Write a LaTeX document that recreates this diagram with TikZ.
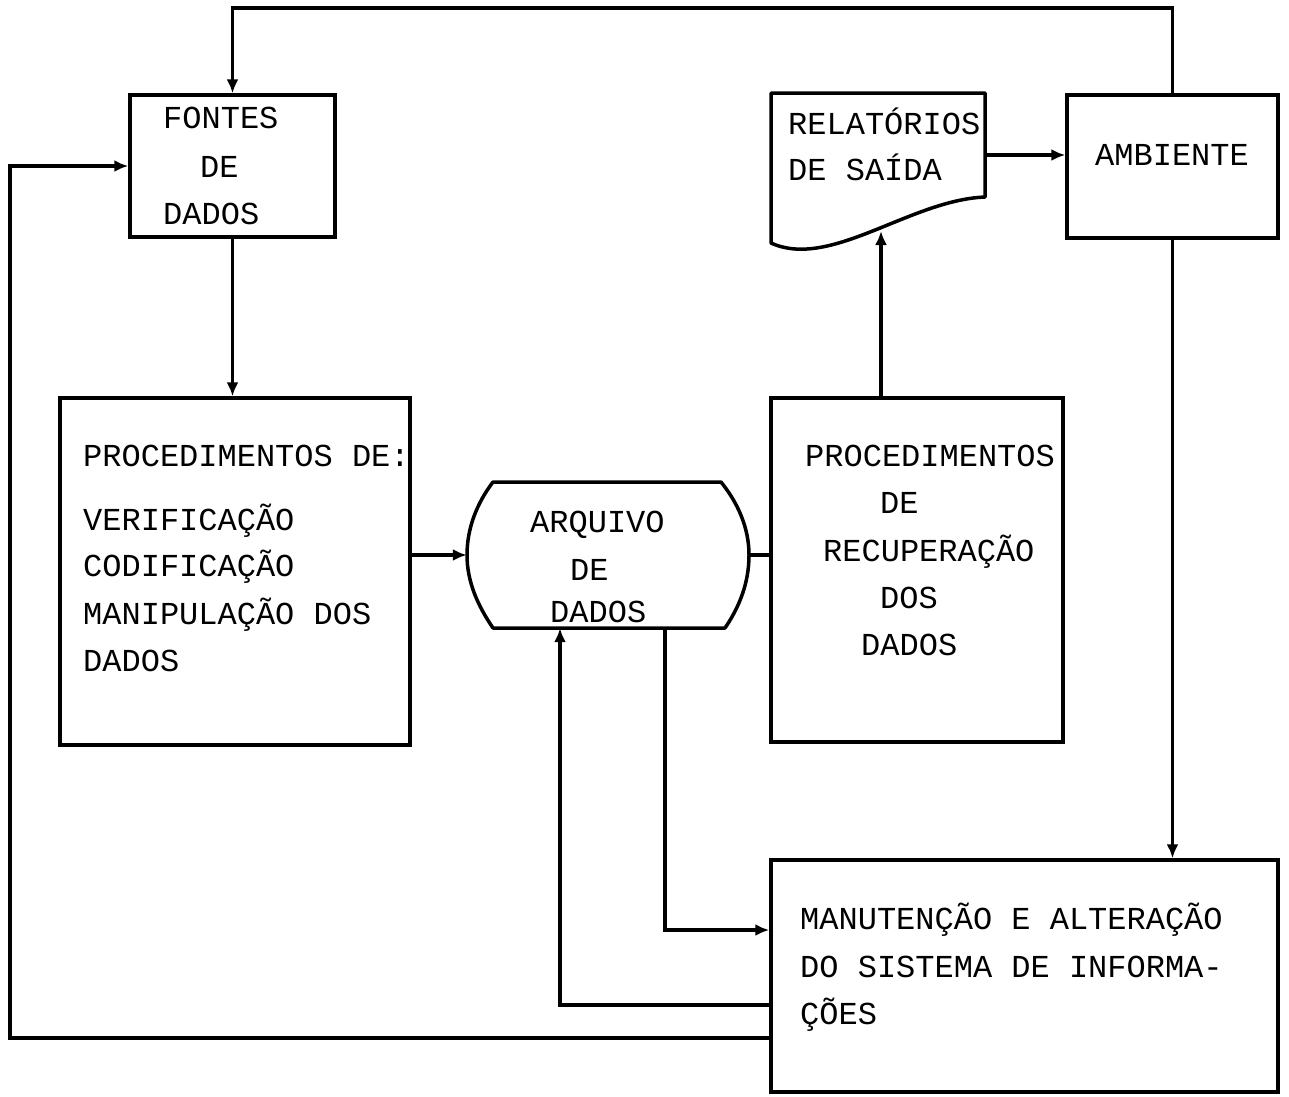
\documentclass[tikz,border=0pt]{standalone}
\usepackage{fontspec}
\setmainfont{Liberation Mono}
\usetikzlibrary{arrows.meta}
\begin{document}
\begin{tikzpicture}[x=1pt,y=-1pt,
  every node/.style={font=\fontsize{32}{40}\selectfont},
  box/.style={draw,line width=3.5pt,rectangle,inner sep=0pt},
  ghost/.style={rectangle,inner sep=0pt},
  txt/.style={anchor=base west,inner sep=0pt},
  conn/.style={line width=3.5pt},
  arr/.style={line width=3.5pt,-{Latex[length=14pt,width=12pt]}}]
\useasboundingbox (0,0) rectangle (1289,1096);
% boxes
\node[box,minimum width=205pt,minimum height=142pt] (fontes) at (232.5,166) {};
\node[box,minimum width=350pt,minimum height=347pt] (proc) at (235,571.5) {};
\node[ghost,minimum width=282pt,minimum height=146pt] (arq) at (608,555) {};
\node[box,minimum width=292pt,minimum height=344pt] (rec) at (917,570) {};
\node[ghost,minimum width=214pt,minimum height=155pt] (rel) at (878,170.5) {};
\node[box,minimum width=211pt,minimum height=143pt] (amb) at (1172.5,166.5) {};
\node[box,minimum width=507pt,minimum height=232pt] (man) at (1024.5,976) {};
% arquivo outline
\draw[conn,line join=round] (493,482) -- (721,482)
  .. controls (738,503) and (749,528) .. (749,555)
  .. controls (749,582) and (740,606) .. (725,628)
  -- (493,628)
  .. controls (478,606) and (467,582) .. (467,555)
  .. controls (467,528) and (477,503) .. (493,482) -- cycle;
% document outline
\draw[conn,line join=round] (771,243) -- (771,93) -- (985,93) -- (985,197)
  .. controls (910,200) and (830,270) .. (771,243) -- cycle;
% texts
\node[txt] (t1) at (163,128) {FONTES};
\node[txt] (t2) at (200,177) {DE};
\node[txt] (t3) at (163,224) {DADOS};
\node[txt] (p1) at (83,466) {PROCEDIMENTOS DE:};
\node[txt] (p2) at (83,530) {VERIFICAÇÃO};
\node[txt] (p3) at (83,576) {CODIFICAÇÃO};
\node[txt] (p4) at (83,624) {MANIPULAÇÃO DOS};
\node[txt] (p5) at (83,671) {DADOS};
\node[txt] (a1t) at (530,532) {ARQUIVO};
\node[txt] (a2t) at (570,580) {DE};
\node[txt] (a3t) at (550,622) {DADOS};
\node[txt] (r1) at (805,466) {PROCEDIMENTOS};
\node[txt] (r2) at (880,513) {DE};
\node[txt] (r3) at (823,561) {RECUPERAÇÃO};
\node[txt] (r4) at (880,608) {DOS};
\node[txt] (r5) at (861,655) {DADOS};
\node[txt] (s1) at (788,134) {RELATÓRIOS};
\node[txt] (s2) at (788,180) {DE SAÍDA};
\node[txt] (e1) at (1095,165) {AMBIENTE};
\node[txt] (m1) at (800,929) {MANUTENÇÃO E ALTERAÇÃO};
\node[txt] (m2) at (800,977) {DO SISTEMA DE INFORMA-};
\node[txt] (m3) at (800,1024) {ÇÕES};
% helper coordinates
\coordinate (topy) at (0,8);
\coordinate (lb) at (10,166);
\coordinate (yl) at (0,1038);
\coordinate (relb) at (881,231);
\coordinate (ra) at (0,155);
\coordinate (c1) at (665,930);
\coordinate (c2) at (560,1005);
% connectors
\draw[arr] (amb.north) -- (amb.north |- topy) -| (fontes.north);
\draw[arr] (man.west |- yl) -| (lb) -- (fontes.west);
\draw[arr] (fontes.south) -- (proc.north -| fontes.south);
\draw[arr] (proc.east |- arq.west) -- (arq.west);
\draw[conn] (arq.east) -- (rec.west |- arq.east);
\draw[arr] (rec.north -| relb) -- (relb);
\draw[arr] (rel.east |- ra) -- (amb.west |- ra);
\draw[arr] (amb.south) -- (man.north -| amb.south);
\draw[arr] (arq.south -| c1) |- (man.west |- c1);
\draw[arr] (man.west |- c2) -| (arq.south -| c2);
\end{tikzpicture}
\end{document}
